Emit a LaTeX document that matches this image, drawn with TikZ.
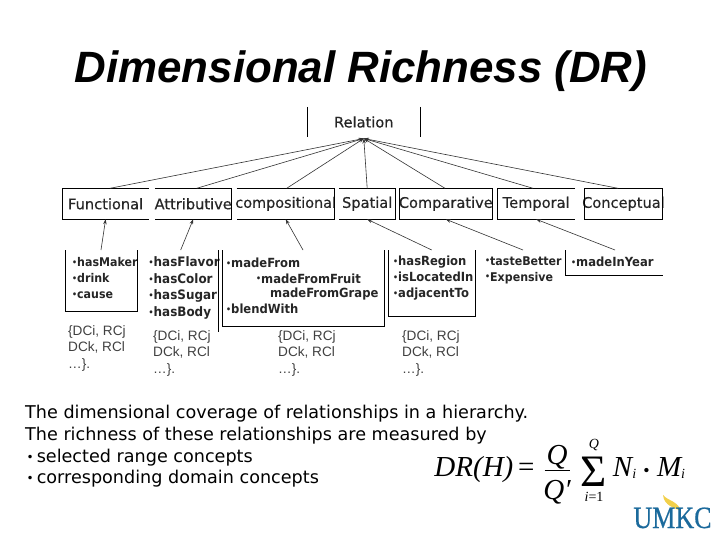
\documentclass[tikz,border=0pt]{standalone}
\usepackage{fontspec}
\usetikzlibrary{arrows.meta}
\setmainfont{DejaVu Sans}
\newfontfamily\arialf{Liberation Sans}
\newfontfamily\timesf{Liberation Serif}
\newfontfamily\catf[FakeBold=0.35]{DejaVu Sans}
\newfontfamily\lstf[FakeStretch=0.92]{DejaVu Sans Bold}
\newfontfamily\logof[FakeStretch=0.84,FakeBold=0.5]{Liberation Serif}
\definecolor{umblue}{HTML}{1B6A9C}
\definecolor{umgold}{HTML}{F2D04A}
\newcommand\noexp[1]{\makebox[0pt]{\raisebox{-1pt}{#1}}}
\newcommand\bul{{\fontsize{8.5}{8.5}\selectfont\raisebox{1.2pt}{•}}}
\newcommand\bbul{\hspace*{1.5pt}{\fontsize{12}{12}\selectfont\raisebox{0.5pt}{•}}\hspace{3pt}}
\tikzset{
  lbl/.style={inner sep=0pt,outer sep=0pt,font=\catf\fontsize{14.6}{16}\selectfont,text=black!85},
  cat/.style={lbl,minimum height=31pt},
  lst/.style={inner sep=0pt,anchor=west,align=left,font=\lstf\fontsize{12}{16}\selectfont,text=black!85},
  lstb/.style={lst,font=\lstf\fontsize{13}{16.5}\selectfont},
  lstc/.style={lst,font=\lstf\fontsize{12.6}{16}\selectfont},
  pair/.style={inner sep=0pt,anchor=north west,align=left,font=\arialf\fontsize{13.6}{16.6}\selectfont,text=black!75},
  body/.style={inner sep=0pt,anchor=base west,font=\fontsize{17.6}{20}\selectfont},
  fm/.style={inner sep=0pt,anchor=base,font=\timesf\itshape\fontsize{29}{29}\selectfont},
  lnk/.style={line width=0.6pt,black!80,-{Stealth[length=5pt,width=3.5pt]}},
  bx/.style={line width=0.9pt}
}
\begin{document}
\begin{tikzpicture}[x=1pt,y=-1pt]
\useasboundingbox[fill=white] (0,0) rectangle (720,540);
\node[inner sep=0pt,font=\arialf\bfseries\itshape\fontsize{43.85}{48}\selectfont] (title) at (361,71.5) {Dimensional Richness (DR)};
% top concept
\node[lbl,minimum width=113pt,minimum height=30pt] (rel) at (363.8,122) {Relation};
\draw[bx] (rel.north west) -- (rel.south west) (rel.north east) -- (rel.south east);
% category boxes
\node[cat,minimum width=86.7pt] (fn) at (105.6,203.8) {\noexp{Functional}};
\node[cat,minimum width=76.5pt] (at) at (193.2,203.8) {\noexp{Attributive}};
\node[cat,minimum width=98pt] (co) at (285.7,203.8) {\noexp{\fontsize{14.4}{16}\selectfont compositional}};
\node[cat,minimum width=56.5pt] (sp) at (367.2,203.8) {\noexp{Spatial}};
\node[cat,minimum width=93pt] (cm) at (445.8,203.8) {\noexp{Comparative}};
\node[cat,minimum width=77.7pt] (te) at (536.2,203.8) {\noexp{Temporal}};
\node[cat,minimum width=78.4pt] (cn) at (623.5,203.8) {\noexp{Conceptual}};
\draw[bx] (fn.north east) -- (fn.north west) -- (fn.south west) -- (fn.south east);
\draw[bx] (at.north west) -- (at.north east) -- (at.south east) -- (at.south west);
\draw[bx] (co.north west) -- (co.north east) -- (co.south east) -- (co.south west);
\draw[bx] (sp.north west) -- (sp.north east) -- (sp.south east) -- (sp.south west);
\draw[bx] (cm.north west) rectangle (cm.south east);
\draw[bx] (te.north east) -- (te.north west) -- (te.south west) -- (te.south east);
\draw[bx] (cn.north west) rectangle (cn.south east);
% links to the top concept
\foreach \n/\s in {fn/4.4,at/3.5,co/1,sp/0,cm/-0.8,te/-3.2,cn/-5.5}
  \draw[lnk] ([xshift=\s pt]\n.north) -- ([yshift=-1.5pt]rel.south);
% lists
\node[lst] (l1) at (72,278) {\bul hasMaker\\\bul drink\\\bul cause};
\node[lstb] (l2) at (148.5,288) {\bul hasFlavor\\\bul hasColor\\\bul hasSugar\\\bul hasBody};
\node[lstc] (l3a) at (226,263) {\bul madeFrom};
\node[lstc] (l3b) at (256,278.5) {\bul madeFromFruit};
\node[lstc] (l3c) at (270,294) {madeFromGrape};
\node[lstc] (l3d) at (226,309) {\bul blendWith};
\node[lstc] (l4) at (393,278) {\bul hasRegion\\\bul isLocatedIn\\\bul adjacentTo};
\node[lst] (l5) at (485,270) {\bul tasteBetter\\\bul Expensive};
\node[lstc] (l6) at (571,262) {\bul madeInYear};
% list frames
\coordinate (f1a) at (65.7,250); \coordinate (f1b) at (65.7,311); \coordinate (f1c) at (137,311); \coordinate (f1d) at (137,250);
\draw[bx] (f1a) -- (f1b) -- (f1c) -- (f1d);
\coordinate (f2a) at (218.3,250); \coordinate (f2b) at (218.3,331.7);
\draw[bx] (f2a) -- (f2b);
\coordinate (f3a) at (222.7,250); \coordinate (f3b) at (222.7,326.7); \coordinate (f3c) at (384.3,326.7); \coordinate (f3d) at (384.3,250);
\draw[bx] (f3a) -- (f3b) -- (f3c) -- (f3d);
\coordinate (f4a) at (388.3,250); \coordinate (f4b) at (388.3,316); \coordinate (f4c) at (475.7,316); \coordinate (f4d) at (475.7,250);
\draw[bx] (f4a) -- (f4b) -- (f4c) -- (f4d);
\coordinate (f6a) at (565,250); \coordinate (f6b) at (565,275); \coordinate (f6c) at (662.7,275);
\draw[bx] (f6a) -- (f6b) -- (f6c);
% links from lists to categories
\coordinate (a1) at (101,250); \coordinate (a2) at (180.7,250); \coordinate (a3) at (303,250);
\coordinate (a4) at (431.7,250); \coordinate (a5) at (523,250); \coordinate (a6) at (615,250);
\draw[lnk] (a1) -- (fn.south);
\draw[lnk] (a2) -- (at.south);
\draw[lnk] (a3) -- (co.south);
\draw[lnk] (a4) -- (sp.south);
\draw[lnk] (a5) -- (cm.south);
\draw[lnk] (a6) -- (te.south);
% domain/range pairs
\node[pair] (p1) at (68,325) {\{DCi, RCj\\DCk, RCl\\…\}.};
\node[pair] (p2) at (153,330) {\{DCi, RCj\\DCk, RCl\\…\}.};
\node[pair] (p3) at (278,330) {\{DCi, RCj\\DCk, RCl\\…\}.};
\node[pair] (p4) at (402,330) {\{DCi, RCj\\DCk, RCl\\…\}.};
% body
\node[body] (b1) at (25,418) {The dimensional coverage of relationships in a hierarchy.};
\node[body] (b2) at (25,440) {The richness of these relationships are measured by};
\node[body] (b3) at (25,462) {\bbul selected range concepts};
\node[body] (b4) at (25,483) {\bbul corresponding domain concepts};
% formula
\node[fm] (f1) at (484.5,476) {DR(H)\,{\upshape =}};
\node[fm] (f2) at (557,464) {Q};
\node[fm] (f3) at (557,499) {Q′};
\draw[line width=0.9pt] (544.5,470) -- (569.5,470);
\node[fm,font=\timesf\fontsize{45}{45}\selectfont] (f4) at (594,486) {Σ};
\node[fm,font=\timesf\itshape\fontsize{14}{14}\selectfont] (f5) at (594,448) {Q};
\node[fm,font=\timesf\fontsize{14}{14}\selectfont] (f6) at (594,501.5) {\textit{i}=1};
\node[fm] (f7) at (649,476) {N\raisebox{-2pt}{\fontsize{14}{14}\selectfont i} {\upshape\fontsize{18}{18}\selectfont •} M\raisebox{-2pt}{\fontsize{14}{14}\selectfont i}};
% logo
\fill[umgold] (663,495) .. controls (668,501) and (678,501) .. (681,511) .. controls (675,508) and (664,506) .. (663,495) -- cycle;
\node[inner sep=0pt,anchor=base,text=umblue,font=\logof\fontsize{31}{31}\selectfont] (logo) at (672.5,528) {UMKC};
\end{tikzpicture}
\end{document}
